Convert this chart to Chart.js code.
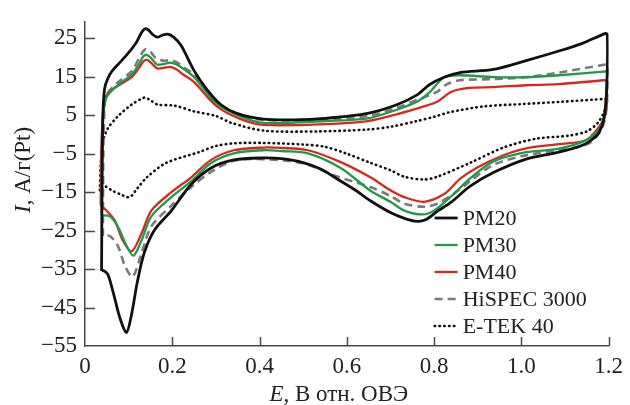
<!DOCTYPE html>
<html>
<head>
<meta charset="utf-8">
<script src="https://cdn.jsdelivr.net/npm/chart.js@4/dist/chart.umd.min.js"></script>
<style>
    html, body { margin: 0; padding: 0; background: #fff; }
    #wrap { width: 630px; height: 405px; position: relative; }
</style>
</head>
<body>
<div id="wrap"><canvas id="cv"></canvas></div>
<script>
// Axis ticks
const xTicks = [0, 0.2, 0.4, 0.6, 0.8, 1.0, 1.2];
const yTicks = [25, 15, 5, -5, -15, -25, -35, -45, -55];

// Series names
const seriesNames = ['PM20', 'PM30', 'PM40', 'HiSPEC 3000', 'E-TEK 40'];

// PM20 (loop: anodic sweep, then cathodic back)
const ePM20 = [0.038, 0.039, 0.041, 0.045, 0.052, 0.062, 0.078, 0.098, 0.118, 0.128, 0.136, 0.144, 0.155, 0.166, 0.177, 0.190, 0.203, 0.220, 0.250, 0.280, 0.311, 0.348, 0.409, 0.480, 0.550, 0.648, 0.716, 0.761, 0.790, 0.823, 0.859, 0.936, 1.011, 1.086, 1.140, 1.193, 1.197, 1.196, 1.190, 1.178, 1.160, 1.140, 1.086, 1.011, 0.936, 0.882, 0.840, 0.807, 0.780, 0.761, 0.732, 0.700, 0.655, 0.620, 0.580, 0.540, 0.500, 0.450, 0.409, 0.341, 0.289, 0.243, 0.198, 0.159, 0.136, 0.120, 0.107, 0.095, 0.080, 0.064, 0.052, 0.041, 0.038];
const iPM20 = [-35.5, -15, 5, 12, 14.5, 16.5, 18.5, 21, 24, 26.2, 27.4, 27.3, 26.0, 25.3, 25.8, 26.1, 25.3, 23.2, 16.6, 11.6, 7.8, 5.5, 4.0, 3.8, 4.2, 5.5, 7.8, 10.3, 13, 14.9, 16.1, 16.9, 19.2, 21.7, 23.7, 26.3, 26, 13, 4.5, 0.5, -1.5, -2.8, -4.6, -6.4, -9.9, -13.5, -17.5, -20, -22.2, -22.6, -21.8, -20.3, -17.3, -14.5, -11.7, -9.0, -7.3, -6.3, -6.1, -6.6, -8.7, -13, -19.8, -24.9, -30.7, -38.3, -46.6, -51.5, -47.7, -40.8, -36.3, -35.3, -35.5];

// PM30
const ePM30 = [0.038, 0.039, 0.042, 0.050, 0.075, 0.107, 0.125, 0.133, 0.141, 0.152, 0.165, 0.180, 0.195, 0.210, 0.228, 0.250, 0.302, 0.357, 0.409, 0.550, 0.648, 0.716, 0.761, 0.790, 0.823, 0.859, 0.936, 1.011, 1.086, 1.195, 1.197, 1.196, 1.186, 1.155, 1.086, 1.011, 0.936, 0.882, 0.840, 0.800, 0.773, 0.732, 0.700, 0.655, 0.586, 0.511, 0.450, 0.409, 0.341, 0.289, 0.243, 0.198, 0.152, 0.130, 0.111, 0.095, 0.075, 0.057, 0.038];
const iPM30 = [-21, -5, 5, 9.8, 12.8, 15.6, 18.5, 20.2, 20.7, 19.8, 18.2, 18.3, 18.7, 18.2, 16.9, 14.9, 8.0, 4.7, 3.0, 3.5, 4.2, 6.5, 8.5, 11, 14.9, 15.4, 14.9, 14.9, 15.4, 16.4, 16.4, 13.1, 3.0, -1.1, -3.7, -4.6, -7.0, -11.5, -16, -19.8, -20.8, -19.8, -17.5, -14.7, -8.7, -4.9, -4.3, -4.1, -4.9, -7.4, -12.2, -16.3, -21.3, -27.4, -31.5, -28.9, -23.9, -21.3, -21];

// PM40
const ePM40 = [0.036, 0.037, 0.040, 0.045, 0.061, 0.107, 0.125, 0.134, 0.142, 0.152, 0.165, 0.180, 0.195, 0.210, 0.225, 0.250, 0.302, 0.357, 0.409, 0.550, 0.648, 0.716, 0.777, 0.807, 0.840, 0.880, 0.936, 1.011, 1.086, 1.190, 1.195, 1.196, 1.190, 1.177, 1.148, 1.086, 1.011, 0.959, 0.900, 0.860, 0.823, 0.777, 0.732, 0.700, 0.655, 0.586, 0.511, 0.450, 0.409, 0.341, 0.289, 0.243, 0.198, 0.152, 0.130, 0.107, 0.086, 0.068, 0.045, 0.036];
const iPM40 = [-18.5, -5, 3, 9.1, 11.6, 14.9, 17.5, 19.0, 19.4, 18.6, 17.2, 17.3, 17.6, 16.9, 15.6, 13.6, 7.3, 4.0, 2.5, 2.7, 3.5, 5.3, 7.3, 8.5, 11.1, 12.1, 12.3, 12.8, 13.1, 14.1, 14.0, 8.0, 4.5, 1.8, -1.5, -2.5, -3.6, -5.4, -8.5, -11.5, -15.5, -17.5, -16.3, -14.5, -11.2, -7.2, -4.1, -3.5, -3.4, -4.1, -6.6, -11.2, -15, -19.8, -25.6, -30.4, -27.4, -22.3, -19.3, -18.5];

// HiSPEC 3000
const eHiSpec = [0.041, 0.042, 0.045, 0.050, 0.075, 0.107, 0.125, 0.133, 0.140, 0.150, 0.163, 0.178, 0.195, 0.210, 0.225, 0.250, 0.300, 0.350, 0.409, 0.550, 0.648, 0.716, 0.761, 0.807, 0.830, 0.859, 0.936, 1.011, 1.086, 1.195, 1.198, 1.196, 1.186, 1.155, 1.086, 1.011, 0.936, 0.882, 0.850, 0.807, 0.777, 0.732, 0.700, 0.655, 0.580, 0.500, 0.409, 0.341, 0.289, 0.243, 0.198, 0.152, 0.130, 0.109, 0.091, 0.075, 0.057, 0.041];
const iHiSpec = [-26.4, -5, 8, 10.5, 13.5, 16.5, 20, 21.6, 22.2, 21.5, 19.8, 19.2, 19.3, 18.8, 17.5, 15.6, 8.5, 5.2, 3.8, 3.9, 4.8, 7.0, 9.0, 11.1, 13.1, 14.1, 14.4, 14.9, 16.1, 18.2, 18.0, 8.0, 2.0, -2.3, -4.1, -5.4, -7.9, -12.2, -15, -18, -18.8, -18.0, -16, -13.7, -11.0, -7.5, -6.4, -6.8, -9.7, -13.7, -18.5, -23.9, -30.7, -37, -34, -28.9, -26.4, -26.4];

// E-TEK 40
const eETek = [0.034, 0.036, 0.041, 0.052, 0.075, 0.107, 0.128, 0.138, 0.150, 0.166, 0.205, 0.250, 0.300, 0.336, 0.410, 0.534, 0.648, 0.700, 0.761, 0.800, 0.836, 0.914, 1.000, 1.090, 1.197, 1.198, 1.190, 1.175, 1.150, 1.109, 1.034, 0.959, 0.882, 0.807, 0.777, 0.732, 0.700, 0.655, 0.600, 0.550, 0.500, 0.409, 0.341, 0.300, 0.261, 0.186, 0.141, 0.120, 0.102, 0.080, 0.064, 0.045, 0.034];
const iETek = [-14.5, -8, -2, 1.5, 4.7, 7.8, 9.2, 9.6, 8.9, 7.8, 7.5, 6.0, 4.8, 3.0, 1.0, 0.8, 1.3, 2.0, 3.5, 4.6, 5.8, 7.3, 7.9, 8.5, 9.3, 9.3, 6.0, 3.0, 0.8, -0.3, -1.1, -3.4, -7.4, -11, -11.7, -11, -9.3, -7.4, -5.0, -3.2, -2.6, -2.2, -2.3, -3.0, -4.6, -7.4, -11.2, -14, -16.3, -15.5, -14.7, -13.5, -14.5];

const SERIF = '"Liberation Serif", "DejaVu Serif", serif';
const AXIS_COLOR = '#4a4a4a';

function toPoints(es, is) {
    return es.map((e, k) => ({ x: e, y: is[k] }));
}

function fmtX(v) {
    if (v === 0) return '0';
    return v.toFixed(1);
}

function fmtY(v) {
    return v < 0 ? '\u2212' + Math.abs(v) : String(v);
}

// inward tick marks on both axes
const innerTicks = {
    id: 'innerTicks',
    afterDraw(chart) {
        const ctx = chart.ctx;
        const xs = chart.scales.x;
        const ys = chart.scales.y;
        const area = chart.chartArea;
        ctx.save();
        ctx.strokeStyle = AXIS_COLOR;
        ctx.lineWidth = 1.5;
        ctx.beginPath();
        xTicks.forEach(v => {
            const px = Math.round(xs.getPixelForValue(v)) + 0.5;
            if (v === 0) return;
            ctx.moveTo(px, area.bottom);
            ctx.lineTo(px, area.bottom - 9);
        });
        yTicks.forEach(v => {
            const py = Math.round(ys.getPixelForValue(v)) + 0.5;
            if (v === -55) return;
            ctx.moveTo(area.left, py);
            ctx.lineTo(area.left + 10, py);
        });
        ctx.stroke();
        ctx.restore();
    }
};

// axis titles with italic variable letters
const axisTitles = {
    id: 'axisTitles',
    afterDraw(chart) {
        const ctx = chart.ctx;
        const area = chart.chartArea;
        const parts = (it, rest) => [[it, 'italic 23px ' + SERIF], [rest, '23px ' + SERIF]];

        function drawParts(list, cx, cy) {
            let total = 0;
            list.forEach(p => { ctx.font = p[1]; total += ctx.measureText(p[0]).width; });
            let x = cx - total / 2;
            list.forEach(p => {
                ctx.font = p[1];
                ctx.fillText(p[0], x, cy);
                x += ctx.measureText(p[0]).width;
            });
        }

        ctx.save();
        ctx.fillStyle = '#222';
        ctx.textBaseline = 'alphabetic';
        drawParts(parts('E', ', В отн. ОВЭ'), (area.left + area.right) / 2 - 8, 401);

        ctx.translate(30, (area.top + area.bottom) / 2 - 14);
        ctx.rotate(-Math.PI / 2);
        drawParts(parts('I', ', A/г(Pt)'), 0, 0);
        ctx.restore();
    }
};

// legend in the lower right corner of the plot
const cornerLegend = {
    id: 'cornerLegend',
    afterDraw(chart) {
        const ctx = chart.ctx;
        const area = chart.chartArea;
        const x0 = area.right - 174;
        const y0 = area.bottom - 128;
        ctx.save();
        ctx.font = '22px ' + SERIF;
        ctx.textBaseline = 'middle';
        chart.data.datasets.forEach((ds, k) => {
            const y = y0 + k * 27;
            ctx.strokeStyle = ds.borderColor;
            ctx.lineWidth = ds.borderWidth;
            ctx.lineCap = ds.borderCapStyle || 'butt';
            ctx.setLineDash(ds.borderDash || []);
            ctx.beginPath();
            ctx.moveTo(x0, y);
            ctx.lineTo(x0 + 23, y);
            ctx.stroke();
            ctx.setLineDash([]);
            ctx.fillStyle = '#222';
            ctx.fillText(ds.label, x0 + 28, y + 1);
        });
        ctx.restore();
    }
};

function makeSet(k, es, is, color, width, dash, cap) {
    return {
        label: seriesNames[k],
        data: toPoints(es, is),
        showLine: true,
        borderColor: color,
        backgroundColor: color,
        borderWidth: width,
        borderDash: dash,
        borderCapStyle: cap,
        borderJoinStyle: 'round',
        pointRadius: 0,
        tension: 0.3,
        fill: false
    };
}

const datasets = [
    makeSet(0, ePM20, iPM20, '#111111', 2.8, [], 'butt'),
    makeSet(1, ePM30, iPM30, '#1e9a48', 2.3, [], 'butt'),
    makeSet(2, ePM40, iPM40, '#d8281e', 2.3, [], 'butt'),
    makeSet(3, eHiSpec, iHiSpec, '#7a7a7a', 2.6, [8, 5], 'butt'),
    makeSet(4, eETek, iETek, '#111111', 2.6, [0.5, 4.3], 'round')
];

new Chart(document.getElementById('cv'), {
    type: 'scatter',
    data: { datasets: datasets },
    options: {
        responsive: true,
        maintainAspectRatio: false,
        animation: false,
        layout: { padding: { left: 0, right: 17, top: 13, bottom: 0 } },
        plugins: {
            legend: { display: false },
            tooltip: { enabled: false }
        },
        scales: {
            x: {
                type: 'linear',
                min: 0,
                max: 1.2,
                afterBuildTicks: s => { s.ticks = xTicks.map(v => ({ value: v })); },
                afterFit: s => { s.height = 59; },
                grid: { display: false, drawTicks: false },
                border: { display: true, color: AXIS_COLOR, width: 1.5 },
                ticks: {
                    color: '#222',
                    padding: 7,
                    maxRotation: 0,
                    font: { family: SERIF, size: 23 },
                    callback: v => fmtX(v)
                }
            },
            y: {
                type: 'linear',
                min: -55,
                max: 29.3,
                afterBuildTicks: s => { s.ticks = yTicks.map(v => ({ value: v })); },
                afterFit: s => { s.width = 85; },
                grid: { display: false, drawTicks: false },
                border: { display: true, color: AXIS_COLOR, width: 1.5 },
                ticks: {
                    color: '#222',
                    padding: 8,
                    font: { family: SERIF, size: 23 },
                    callback: v => fmtY(v)
                }
            }
        }
    },
    plugins: [innerTicks, axisTitles, cornerLegend]
});
</script>
</body>
</html>
